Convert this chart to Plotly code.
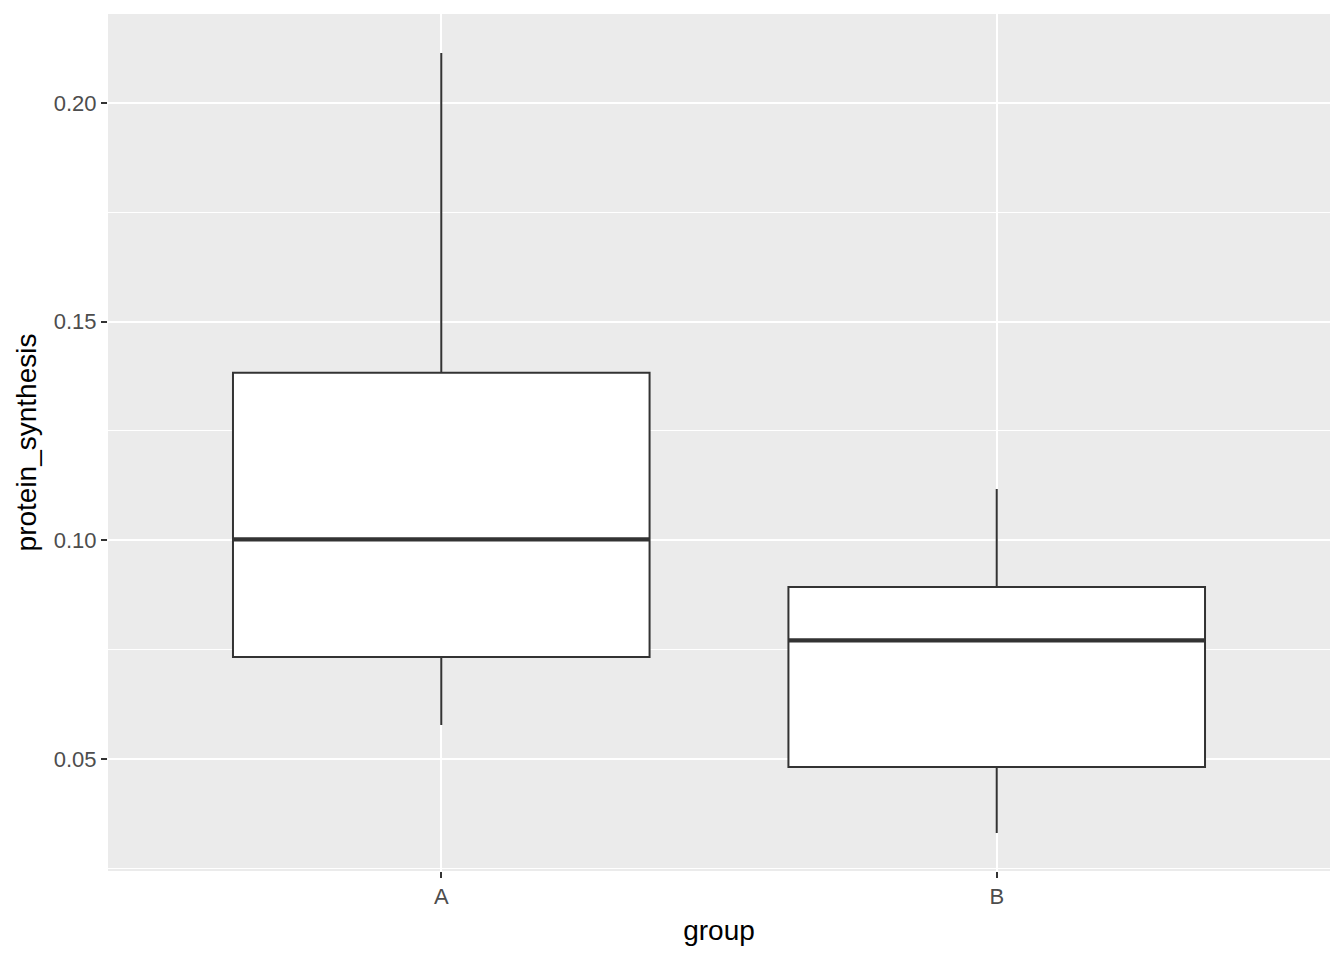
import plotly.graph_objects as go

groups = ["A", "B"]
lower_whisker = [0.0578, 0.0331]
q1 = [0.0733, 0.0482]
median = [0.1002, 0.0771]
q3 = [0.1383, 0.0893]
upper_whisker = [0.2114, 0.1117]

box_width = 0.75
pos = list(range(len(groups)))

fig = go.Figure()
fig.add_trace(go.Box(
    x=pos, q1=q1, median=median, q3=q3,
    lowerfence=lower_whisker, upperfence=upper_whisker,
    width=box_width, fillcolor="white",
    line=dict(color="#333333", width=2),
    whiskerwidth=0, showlegend=False, hoverinfo="skip",
))
for i, m in zip(pos, median):
    fig.add_trace(go.Scatter(
        x=[i - box_width / 2, i + box_width / 2], y=[m, m],
        mode="lines", line=dict(color="#333333", width=4.2),
        showlegend=False, hoverinfo="skip",
    ))

fig.update_layout(
    width=1344, height=960,
    margin=dict(l=100, r=22, t=6, b=97),
    paper_bgcolor="white", plot_bgcolor="#EBEBEB",
    font=dict(family="Liberation Sans, Arial, sans-serif"),
)
fig.update_xaxes(
    range=[-0.6, 1.6], tickvals=pos, ticktext=groups,
    showgrid=True, gridcolor="white", gridwidth=2.1, zeroline=False,
    ticks="outside", ticklen=6, tickwidth=2, tickcolor="#333333",
    tickfont=dict(size=22, color="#4D4D4D"),
    title=dict(text="group", font=dict(size=28, color="black"), standoff=11),
)
fig.update_yaxes(
    range=[0.0244, 0.2203], tick0=0.05, dtick=0.05, tickformat=".2f",
    showgrid=True, gridcolor="white", gridwidth=2.1, zeroline=False,
    ticks="outside", ticklen=6, tickwidth=2, tickcolor="#333333",
    tickfont=dict(size=22, color="#4D4D4D"),
    minor=dict(tick0=0.025, dtick=0.025, showgrid=True, gridcolor="white", gridwidth=1, ticks=""),
    title=dict(text="protein_synthesis", font=dict(size=28, color="black"), standoff=8),
)

fig.write_html("out.html")
